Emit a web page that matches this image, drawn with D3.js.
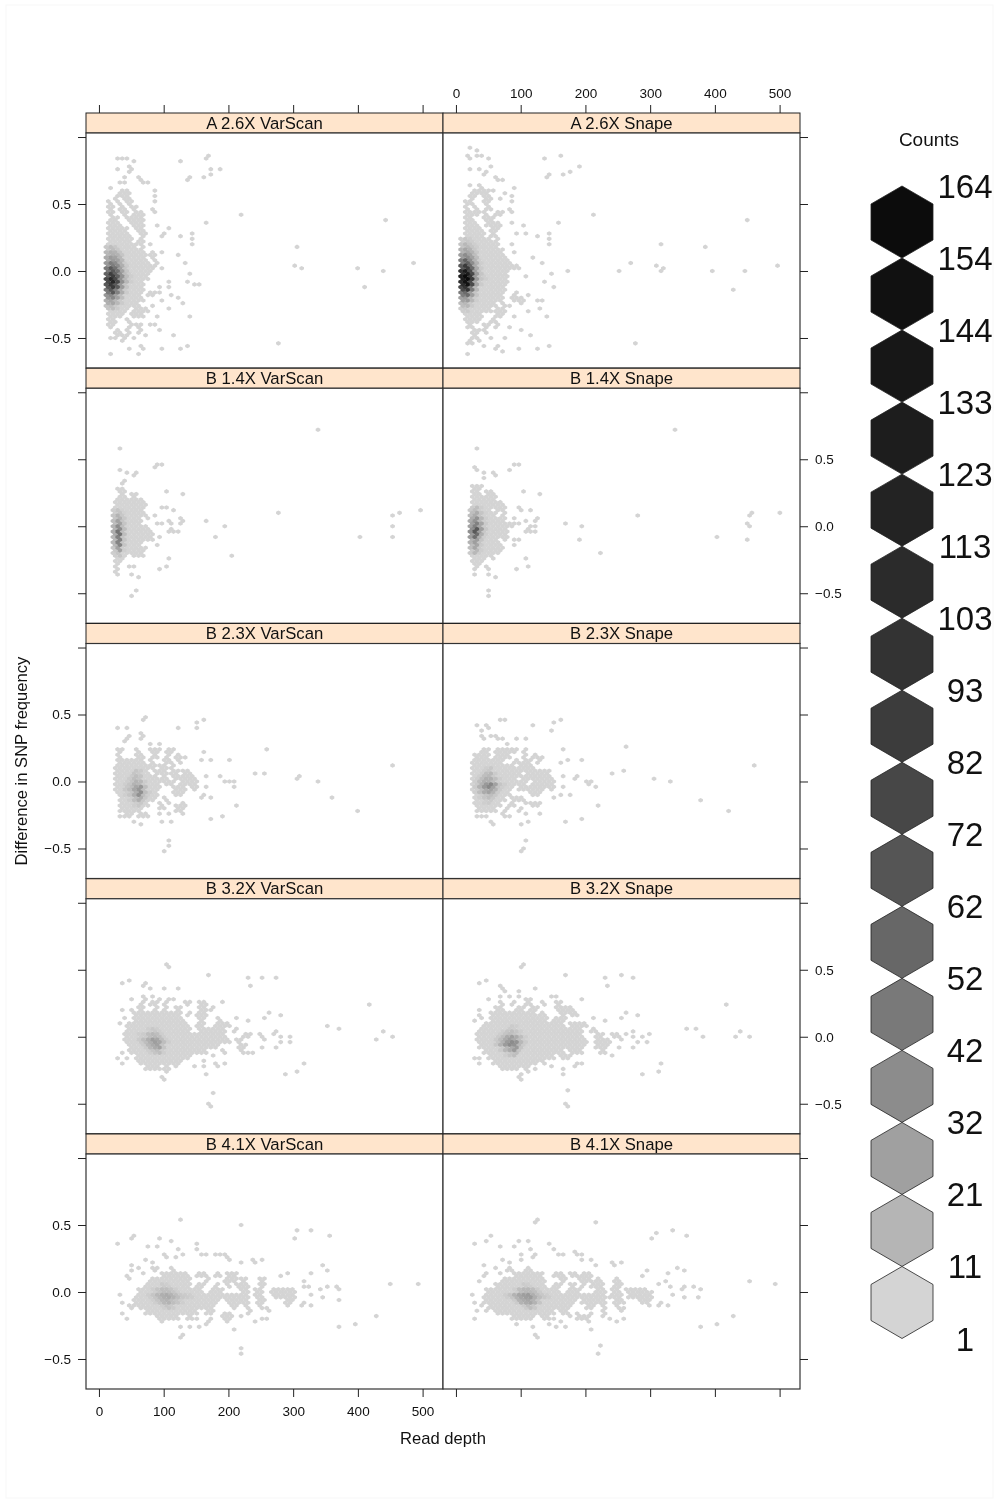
<!DOCTYPE html>
<html><head><meta charset="utf-8">
<script src="https://cdnjs.cloudflare.com/ajax/libs/d3/7.8.5/d3.min.js"></script>
<style>html,body{margin:0;background:#fff}svg{display:block;filter:blur(.35px)}text{font-family:"Liberation Sans",Arial,sans-serif;fill:#111}</style>
</head><body><div id="chart"></div>
<script>
const depthTicks=[0,100,200,300,400,500];
const diffTicks=[-0.5,0,0.5,1];
const legendCounts=[164,154,144,133,123,113,103,93,82,72,62,52,42,32,21,11,1];
const legendGrays=["#0c0c0c","#111111","#171717","#1d1d1d","#232323","#2b2b2b","#333333","#3c3c3c","#474747","#555555","#676767","#797979","#8c8c8c","#a0a0a0","#b5b5b5","#d4d4d4"];

// isolated occupied bins: [read depth, difference]
const aVarScanPoints=[[19,-.62],[30,.83],[35,.84],[42,.84],[54,.82],[26,.75],[32,.76],[45,.77],[49,.77],[53,.75],[49,.73],[40,.70],[58,.70],[64,.68],[65,.66],[72,.66],[21,.62],[35,.65],[42,.65],[89,.60],[85,.57],[83,.51],[83,.47],[87,.43],[89,.33],[107,.31],[103,.29],[94,.25],[82,.19],[94,.13],[82,.13],[120,.11],[132,.05],[99,.01],[141,-.03],[110,-.07],[135,-.08],[146,-.11],[152,-.11],[92,-.12],[105,-.12],[97,-.16],[114,-.19],[124,-.21],[129,-.25],[99,-.22],[111,-.29],[84,-.27],[137,-.34],[89,-.35],[85,-.40],[81,-.40],[97,-.44],[115,-.48],[73,-.48],[56,-.5],[27,-.49],[20,-.5],[34,-.52],[47,-.58],[63,-.56],[70,-.58],[61,-.62],[94,-.58],[128,-.58],[139,-.56],[129,.82],[168,.86],[165,.84],[189,.76],[173,.75],[173,.72],[163,.70],[142,.70],[138,.70],[137,.68],[162,.35],[217,.41],[307,.17],[304,.03],[316,.01],[397,.01],[437,-.01],[487,.05],[444,.37],[409,-.12],[274,-.54],[144,.27],[144,.23],[144,.19],[128,.25]];
const aSnapePoints=[[24,.91],[15,.85],[20,.85],[25,.84],[32,.89],[34,.86],[41,.85],[52,.83],[135,.83],[165,.85],[190,.77],[175,.73],[168,.71],[144,.71],[137,.69],[24,.75],[33,.75],[51,.77],[50,.74],[44,.71],[61,.69],[67,.67],[73,.67],[19,.63],[88,.61],[60,.60],[72,.59],[84,.57],[69,.53],[86,.51],[81,.47],[69,.43],[86,.43],[86,.35],[103,.33],[108,.29],[95,.27],[127,.25],[144,.27],[144,.23],[144,.19],[158,.35],[214,.41],[86,.19],[93,.13],[120,.10],[132,.05],[100,.02],[175,0],[146,-.03],[111,-.05],[137,-.07],[152,-.12],[114,-.18],[123,-.22],[130,-.22],[104,-.24],[132,-.28],[110,-.30],[139,-.34],[86,-.26],[90,-.35],[86,-.42],[98,-.44],[112,-.48],[72,-.50],[57,-.50],[36,-.52],[45,-.56],[64,-.56],[62,-.58],[74,-.60],[96,-.58],[129,-.58],[142,-.56],[19,-.62],[279,-.54],[252,0],[269,.06],[310,.04],[317,.19],[322,.02],[320,0],[382,.17],[397,0],[445,0],[450,.37],[428,-.14],[498,.04]];
const b14VarScanPoints=[[31,.58],[335,.72],[31,.42],[29,.41],[41,.39],[59,.39],[57,.37],[89,.47],[93,.47],[99,.45],[84,.43],[105,.25],[130,.23],[95,.13],[105,.13],[116,.11],[88,.07],[278,.09],[76,.06],[124,.05],[126,.03],[107,.03],[114,.01],[124,.01],[163,.03],[97,.01],[100,.01],[87,.01],[192,0],[118,-.04],[121,-.04],[107,-.04],[110,-.02],[93,-.08],[182,-.08],[91,-.14],[208,-.22],[403,-.08],[450,-.08],[455,0],[454,.07],[462,.09],[497,.11],[107,-.24],[104,-.30],[93,-.32],[27,-.36],[51,-.36],[58,-.38],[55,-.48],[48,-.53],[45,-.30],[52,-.30]];
const b14SnapePoints=[[32,.59],[339,.71],[32,.43],[30,.41],[42,.39],[41,.36],[55,.40],[59,.37],[90,.47],[94,.47],[100,.46],[81,.42],[105,.26],[127,.24],[96,.14],[103,.12],[117,.12],[278,.08],[124,.06],[122,.04],[108,.04],[100,.02],[95,.02],[88,.05],[167,.02],[193,0],[114,0],[121,0],[111,-.03],[118,-.04],[122,-.04],[108,-.04],[92,-.10],[96,-.10],[190,-.10],[91,-.14],[221,-.20],[406,-.08],[451,-.10],[451,.02],[457,0],[457,.08],[460,.10],[498,.10],[108,-.24],[110,-.30],[93,-.32],[28,-.36],[51,-.36],[58,-.38],[51,-.48],[48,-.53],[46,-.30],[50,-.32],[77,-.10]];
const b23VarScanPoints=[[69,.48],[71,.46],[30,.40],[40,.39],[119,.40],[149,.44],[164,.46],[152,.39],[62,.35],[69,.34],[43,.32],[45,.33],[40,.30],[62,.31],[76,.29],[90,.29],[162,.22],[262,.24],[158,.15],[175,.15],[200,.15],[135,.17],[452,.12],[241,.06],[258,.06],[306,.03],[303,.01],[335,-.01],[358,-.13],[403,-.22],[168,.03],[184,.03],[195,-.01],[203,-.01],[208,-.01],[211,-.04],[164,-.04],[162,-.10],[158,-.13],[175,-.13],[215,-.19],[188,-.27],[173,-.29],[115,-.31],[98,-.31],[128,-.24],[128,-.18],[118,-.19],[111,-.17],[102,-.20],[94,-.20],[94,-.24],[107,-.24],[74,-.24],[79,-.26],[73,-.27],[62,-.33],[57,-.31],[48,-.27],[40,-.25],[34,-.27],[108,-.44],[107,-.49],[103,-.52],[66,.31]];
const b23SnapePoints=[[65,.47],[72,.45],[29,.42],[37,.38],[46,.41],[48,.40],[120,.42],[152,.43],[165,.47],[162,.45],[150,.38],[64,.34],[70,.32],[51,.34],[43,.33],[42,.31],[64,.31],[78,.29],[90,.31],[106,.31],[111,.31],[163,.23],[260,.25],[161,.14],[176,.16],[197,.16],[131,.18],[458,.11],[240,.05],[260,.07],[305,.02],[333,0],[376,-.14],[423,-.22],[168,.04],[180,.02],[187,.04],[198,0],[203,-.02],[209,-.01],[214,-.05],[165,-.04],[165,-.11],[177,-.11],[154,-.12],[216,-.18],[195,-.29],[171,-.31],[115,-.31],[100,-.33],[126,-.25],[133,-.17],[120,-.19],[111,-.16],[102,-.20],[95,-.23],[106,-.24],[80,-.27],[74,-.25],[61,-.32],[55,-.30],[48,-.27],[34,-.27],[42,-.27],[109,-.44],[104,-.51],[102,-.52]];
const b32VarScanPoints=[[103,.53],[105,.51],[34,.39],[49,.41],[72,.39],[70,.37],[76,.36],[98,.36],[120,.36],[171,.46],[228,.44],[249,.44],[273,.43],[233,.37],[51,.29],[66,.30],[73,.29],[84,.30],[93,.29],[111,.29],[116,.29],[192,.25],[421,.23],[260,.18],[280,.16],[252,.14],[213,.14],[228,.12],[355,.07],[369,.05],[440,.03],[457,0],[429,-.02],[294,0],[284,0],[277,.03],[267,.02],[259,-.02],[249,-.09],[274,-.07],[284,-.05],[292,-.05],[314,-.20],[305,-.27],[286,-.29],[236,-.13],[231,-.13],[175,-.15],[158,-.11],[162,-.18],[147,-.23],[164,-.23],[166,-.29],[175,-.43],[171,-.50],[173,-.52],[192,-.20],[180,-.20],[180,-.23],[118,-.23],[110,-.25],[103,-.27],[97,-.31],[100,-.33],[29,-.16],[32,-.16],[36,-.20],[40,-.16],[36,-.13],[48,-.13],[30,.10],[36,.19],[36,.14],[43,.14],[50,.19]];
const b32SnapePoints=[[102,.54],[104,.52],[33,.39],[48,.41],[69,.38],[74,.36],[76,.34],[99,.34],[123,.36],[170,.46],[230,.43],[253,.45],[273,.43],[232,.37],[51,.29],[66,.30],[82,.30],[94,.30],[111,.29],[115,.29],[146,.30],[154,.30],[193,.27],[421,.23],[260,.18],[279,.16],[256,.14],[213,.14],[232,.12],[356,.05],[369,.05],[439,.03],[457,0],[435,0],[384,0],[296,.02],[296,-.05],[286,0],[277,.03],[273,0],[265,.02],[258,-.02],[254,-.09],[273,-.07],[284,-.05],[318,-.20],[313,-.27],[286,-.29],[238,-.14],[232,-.12],[174,-.14],[164,-.16],[151,-.23],[166,-.25],[166,-.29],[176,-.41],[170,-.50],[173,-.52],[193,-.20],[185,-.20],[181,-.23],[119,-.25],[113,-.26],[103,-.28],[96,-.30],[102,-.32],[28,-.16],[33,-.16],[36,-.21],[95,-.25],[87,-.23],[74,-.22],[36,.16],[36,.19],[29,.11],[41,.14]];
const b41VarScanPoints=[[126,.53],[217,.50],[32,.35],[50,.39],[57,.41],[97,.39],[108,.37],[72,.33],[90,.33],[148,.35],[151,.31],[156,.28],[164,.29],[300,.39],[303,.45],[330,.45],[354,.41],[451,.06],[493,.06],[120,.31],[126,.29],[100,.29],[102,.25],[117,.25],[74,.23],[84,.21],[50,.19],[62,.18],[53,.15],[42,.11],[44,.09],[71,.14],[182,.29],[190,.29],[196,.29],[197,.25],[203,.23],[254,.23],[235,.23],[242,.21],[218,.21],[342,.19],[351,.16],[330,.14],[293,.14],[282,.12],[319,.08],[324,.04],[315,.04],[365,.04],[373,.02],[345,.02],[353,.03],[347,-.04],[330,-.02],[370,-.06],[373,-.06],[312,-.10],[318,-.08],[326,-.10],[293,-.11],[293,-.07],[272,-.04],[259,-.12],[262,-.14],[230,-.13],[228,-.10],[257,-.20],[252,-.21],[244,-.22],[222,-.19],[205,-.17],[197,-.17],[192,-.17],[200,-.23],[210,-.29],[174,-.20],[166,-.22],[154,-.20],[164,-.25],[153,-.27],[139,-.27],[124,-.27],[127,-.32],[97,-.23],[44,-.21],[37,-.16],[48,-.13],[44,-.10],[37,-.07],[30,-.02],[54,-.11],[222,-.42],[219,-.47],[125,-.34],[373,-.27],[395,-.25],[430,-.19],[53,-.06],[300,0],[223,.01]];
const b41SnapePoints=[[124,.54],[122,.52],[216,.51],[218,.52],[30,.35],[46,.38],[55,.41],[94,.38],[112,.37],[70,.33],[88,.33],[145,.35],[150,.31],[155,.28],[162,.29],[304,.39],[306,.44],[333,.45],[356,.41],[450,.07],[491,.05],[118,.31],[124,.28],[98,.29],[100,.24],[116,.26],[72,.24],[82,.21],[46,.19],[60,.17],[50,.14],[40,.11],[36,.08],[68,.14],[180,.30],[188,.29],[194,.29],[195,.24],[206,.23],[252,.22],[238,.22],[244,.20],[216,.20],[345,.18],[350,.15],[328,.14],[296,.15],[285,.12],[322,.08],[328,.04],[312,.05],[368,.04],[376,.02],[348,.02],[356,.03],[350,-.04],[332,-.03],[372,-.05],[315,-.10],[320,-.07],[329,-.10],[296,-.11],[290,-.07],[275,-.03],[262,-.12],[258,-.14],[233,-.13],[225,-.10],[260,-.20],[250,-.22],[240,-.21],[225,-.19],[208,-.17],[200,-.18],[186,-.17],[204,-.23],[206,-.29],[177,-.19],[163,-.22],[150,-.20],[168,-.26],[156,-.27],[142,-.25],[120,-.27],[124,-.32],[94,-.24],[30,-.21],[32,-.15],[44,-.14],[38,-.10],[30,-.07],[25,-.03],[42,-.11],[220,-.41],[217,-.47],[128,-.35],[377,-.27],[400,-.25],[432,-.19],[300,0],[226,.02]];

// solid rows of occupied bins: [difference, depth from, depth to, ...]
const aVarScanRuns=[[.60,32,50],[.56,22,30,35,50],[.52,13,20,27,35,43,53],[.48,13,22,32,40,48,58],[.44,13,25,35,45,53,69],[.40,17,30,43,69],[.36,14,35,50,71],[.32,13,45,56,71],[.28,13,50,63,74],[.24,13,53,58,69],[.20,13,58,63,71],[.16,13,71],[.12,13,74,79,87],[.08,13,79,84,92],[.04,13,87],[0,13,81],[-.04,13,76],[-.08,13,71],[-.12,13,69],[-.16,13,66,74,87],[-.20,13,69],[-.24,13,63],[-.28,13,45,53,76],[-.32,13,38,50,69],[-.36,13,27,40,50],[-.40,13,25,45,50,56,66],[-.44,25,35,43,50,61,66],[-.48,22,30,33,45]];
const aSnapeRuns=[[.64,33,43],[.60,25,41,43,52],[.56,20,30,41,54],[.52,13,28,41,51],[.48,12,20,28,33,46,56],[.44,12,36,41,48,61,74],[.40,11,28,43,61],[.36,11,33,46,69],[.32,11,41,51,66],[.28,11,46,54,64],[.24,11,54,59,66],[.20,11,66],[.16,11,74],[.12,11,77],[.08,11,85],[.04,11,95],[0,11,82],[-.04,11,82],[-.08,11,80],[-.12,11,77],[-.16,11,74,90,95],[-.20,11,72,85,105],[-.24,11,64,69,79],[-.28,11,54,59,77],[-.32,11,43,59,74],[-.36,12,36,54,64],[-.40,15,28,41,51,59,64],[-.44,25,36,41,48],[-.48,23,33],[-.52,18,28]];
const b14VarScanRuns=[[.33,35,43],[.28,26,43],[.24,32,43,48,61],[.20,22,71],[.16,22,74],[.12,22,58,61,71],[.08,22,66,71,76],[.04,22,66],[0,22,79],[-.04,22,84],[-.08,22,84],[-.12,22,66],[-.16,22,74],[-.20,22,45,50,71],[-.24,22,38],[-.28,25,32],[-.32,25,30]];
const b14SnapeRuns=[[.30,24,43],[.26,25,36,46,59],[.22,23,64],[.18,23,74],[.14,23,56,61,77],[.10,23,64,69,77],[.06,23,79],[.02,23,90],[-.02,23,82],[-.06,23,82],[-.10,23,66],[-.14,23,72],[-.18,23,70],[-.22,23,48,51,61],[-.26,25,40],[-.30,28,33]];
const b23VarScanRuns=[[.24,27,38,58,63,79,94,102,107,112,118],[.20,27,35,56,69,81,92,102,110,118,128],[.16,27,71,76,84,99,115,120,125],[.12,25,87,92,107,110,118],[.08,25,79,84,105,110,123,128,143],[.04,25,92,97,105,115,148],[0,25,94,99,118,123,154],[-.04,25,97,112,136,143,154],[-.08,27,92,115,133],[-.12,30,87,99,107],[-.16,30,76,92,97,123,136],[-.20,32,66,118,133],[-.24,38,53,61,69]];
const b23SnapeRuns=[[.24,38,51,61,95,102,110],[.20,28,51,59,85,102,110,118,128],[.16,25,74,90,100,102,118,123,131],[.12,23,90,95,120],[.08,23,102,108,144],[.04,23,95,100,149],[0,23,110,118,152],[-.04,25,87,95,139,144,152],[-.08,28,85,113,133],[-.12,28,78,85,105],[-.16,28,69,82,92,115,133],[-.20,32,64,74,80],[-.24,69,79]];
const b32VarScanRuns=[[.26,63,68,79,92,99,105,133,141,154,169],[.22,61,71,84,92,99,107,117,128,154,166,172,179],[.18,53,128,135,141,151,169],[.14,53,133,154,164,182,187],[.10,40,138,148,164,177,203],[.06,40,143,154,197,207,215],[.02,38,197,221,236,246,254],[-.02,38,203,210,223],[-.06,45,185,215,228],[-.10,45,166,190,197,220,225],[-.14,55,143],[-.18,60,128],[-.22,71,94,100,110]];
const b32SnapeRuns=[[.26,69,74,85,92,105,118,133,139,152,162],[.22,61,72,92,105,113,126,154,182],[.18,51,123,128,139,162,172,175,188],[.14,51,141,151,170],[.10,41,141,144,167,175,203],[.06,33,152,154,197,206,219],[.02,30,197,213,229,239,255],[-.02,30,203,213,239],[-.06,36,180,182,200,216,237],[-.10,43,167,175,195,221,226],[-.14,48,152,162,175],[-.18,56,126,131,136],[-.22,66,100,102,113]];
const b41VarScanRuns=[[.18,81,90,110,117],[.14,94,138,151,169,177,190,195,215],[.10,76,141,164,172,192,213,218,228,246,257],[.06,69,141,151,164,177,187,197,200,210,231,246,259],[.02,58,161,172,192,218,233,239,254,265,300],[-.02,56,233,238,254,267,305],[-.06,56,187,195,233,244,259,285,300],[-.10,61,179,203,213,226,231,249,254],[-.14,71,154,164,177,228,233],[-.18,89,125,135,146,190,208]];
const b41SnapeRuns=[[.18,78,88,108,116],[.14,88,136,148,166,175,188,193,212],[.10,70,140,160,170,190,210,216,226,243,255],[.06,58,140,148,162,175,186,195,200,208,230,243,258],[.02,45,160,170,192,215,232,238,255,262,298],[-.02,42,232,237,256,264,306],[-.06,42,186,193,232,242,260,282,302],[-.10,50,178,200,214,224,232,246,254],[-.14,60,152,162,176,226,232],[-.18,84,122,132,146,186,206]];

// darker bins: [difference, first depth, [counts in steps of one bin width]]
const aVarScanCore=[[.18,14,[5,8,5]],[.14,14,[10,14,12,6]],[.10,14,[16,24,20,10]],[.06,14,[25,40,32,14,4]],[.02,14,[42,60,46,20,6]],[-.02,14,[55,80,55,28,8,3]],[-.06,14,[70,105,70,30,10,3]],[-.10,14,[60,85,58,24,6]],[-.14,14,[42,60,38,15,4]],[-.18,14,[26,34,20,8]],[-.22,14,[14,18,10,4]],[-.26,14,[6,8,4]]];
const aSnapeCore=[[.24,10,[3,5,3]],[.20,10,[6,10,6,3]],[.16,10,[12,18,12,5]],[.12,10,[22,32,20,8]],[.08,10,[40,55,32,12,3]],[.04,10,[60,85,50,16,4]],[0,10,[95,125,70,22,6]],[-.04,10,[120,164,85,24,6,3]],[-.08,10,[100,140,70,18,4]],[-.12,10,[70,90,42,10]],[-.16,10,[40,50,22,6]],[-.20,10,[20,24,10,3]],[-.24,10,[8,10,4]],[-.28,10,[3,4]]];
const b14VarScanCore=[[.12,22,[3,6,2]],[.08,22,[6,12,5]],[.04,22,[8,20,6]],[0,22,[12,32,8]],[-.04,22,[15,45,8]],[-.08,22,[10,38,6]],[-.12,22,[10,36,6]],[-.16,22,[5,20,3]],[-.20,22,[3,6]]];
const b14SnapeCore=[[.14,23,[4,8,3]],[.10,23,[8,15,6,2]],[.06,23,[15,28,10,3]],[.02,23,[20,38,18,4]],[-.02,23,[30,60,22,5]],[-.06,23,[24,48,14,3]],[-.10,23,[12,22,6]],[-.14,23,[8,18,4]],[-.18,23,[4,10,3]]];
const b23VarScanCore=[[.08,54,[6,4]],[.04,47,[4,8,6]],[0,40,[3,6,12,10,4]],[-.04,40,[5,8,18,26,8]],[-.08,40,[3,6,14,30,8,3]],[-.12,47,[3,8,14,5]],[-.16,54,[3,5]]];
const b23SnapeCore=[[.10,46,[3,5]],[.06,39,[3,8,10,4]],[.02,32,[3,8,14,14,8,3]],[-.02,32,[4,12,25,34,20,6,3]],[-.06,32,[3,8,16,20,12,4]],[-.10,39,[3,6,8,5]],[-.14,46,[3,4]]];
const b32VarScanCore=[[.06,78,[3,5,3]],[.02,64,[3,4,8,10,8,3]],[-.02,64,[4,8,14,22,18,8,3]],[-.06,71,[4,10,16,20,6]],[-.10,78,[3,6,8,3]]];
const b32SnapeCore=[[.08,85,[4,3]],[.04,71,[3,6,8,6,3]],[0,64,[4,8,16,22,16,8,3]],[-.04,64,[5,12,24,32,28,10,4]],[-.08,71,[4,10,16,24,6]],[-.12,78,[3,6,8]]];
const b41VarScanCore=[[.06,99,[4,3]],[.02,85,[3,6,8,8,6,3]],[-.02,78,[3,6,10,14,16,12,8,5,4,3]],[-.06,85,[3,6,10,12,8,6,3]],[-.10,99,[3,6,4]]];
const b41SnapeCore=[[.06,106,[4,3]],[.02,92,[3,8,10,10,8,4]],[-.02,78,[3,6,12,18,22,24,14,8,5,3]],[-.06,92,[4,12,16,18,12,6]],[-.10,106,[4,8,5]]];

const panels=[
["A 2.6X VarScan",aVarScanPoints,aVarScanRuns,aVarScanCore],["A 2.6X Snape",aSnapePoints,aSnapeRuns,aSnapeCore],
["B 1.4X VarScan",b14VarScanPoints,b14VarScanRuns,b14VarScanCore],["B 1.4X Snape",b14SnapePoints,b14SnapeRuns,b14SnapeCore],
["B 2.3X VarScan",b23VarScanPoints,b23VarScanRuns,b23VarScanCore],["B 2.3X Snape",b23SnapePoints,b23SnapeRuns,b23SnapeCore],
["B 3.2X VarScan",b32VarScanPoints,b32VarScanRuns,b32VarScanCore],["B 3.2X Snape",b32SnapePoints,b32SnapeRuns,b32SnapeCore],
["B 4.1X VarScan",b41VarScanPoints,b41VarScanRuns,b41VarScanCore],["B 4.1X Snape",b41SnapePoints,b41SnapeRuns,b41SnapeCore]];

const W=998,H=1504,leftX=86,colW=357,topY=113,stripH=20,rowH=255.25,plotH=235;
const svg=d3.select("#chart").append("svg").attr("width",W).attr("height",H);
svg.append("rect").attr("x",6).attr("y",5).attr("width",987).attr("height",1493).attr("fill","#fff").attr("stroke","#f7f7f7");

const xS=d3.scaleLinear().domain([-20,531.5]).range([0,colW]);
const yS=d3.scaleLinear().domain([-.724,1.03]).range([plotH,0]);
const gray=d3.scaleLinear().domain([1,11,21,32,42,52,62,72,82,93,103,113,123,133,144,164]).range(legendGrays.slice().reverse());
const binX=7.2,binY=.02;
const hw=(xS(binX)-xS(0))/2, hTip=2.3, hSh=1.0;
const hexPath=`M0,${-hTip}L${hw},${-hSh}L${hw},${hSh}L0,${hTip}L${-hw},${hSh}L${-hw},${-hSh}Z`;

function binsFor(points,runs,core){
  const cells=new Map();
  const put=(depth,diff,c)=>{
    const i=Math.round(diff/binY),off=(Math.abs(i)%2)*binX/2;
    const j=Math.round((depth-off)/binX),k=i+"_"+j;
    const cx=j*binX+off;
    if(!cells.has(k)||cells.get(k).c<c)cells.set(k,{x:cx,y:i*binY,c});
  };
  points.forEach(p=>put(p[0],p[1],1));
  runs.forEach(r=>{
    for(let s=1;s<r.length;s+=2){
      [r[0],r[0]-binY].forEach(d=>{
        const i=Math.round(d/binY),off=(Math.abs(i)%2)*binX/2;
        const j0=Math.ceil((r[s]-off)/binX),j1=Math.floor((r[s+1]-off)/binX);
        if(j1<j0)put((r[s]+r[s+1])/2,d,1);
        for(let j=j0;j<=j1;j++)put(j*binX+off,d,1);
      });
    }
  });
  core.forEach(r=>r[2].forEach((c,n)=>{[r[0],r[0]-binY].forEach(d=>put(r[1]+n*binX,d,c));}));
  return Array.from(cells.values()).sort((a,b)=>a.c-b.c);
}

panels.forEach((p,n)=>{
  const col=n%2,row=Math.floor(n/2);
  const x0=leftX+col*colW,y0=topY+row*rowH;
  const g=svg.append("g").attr("transform",`translate(${x0},${y0})`);
  g.append("rect").attr("width",colW).attr("height",stripH).attr("fill","#ffe5cc").attr("stroke","#222").attr("stroke-width",1);
  g.append("text").attr("x",colW/2).attr("y",15.5).attr("text-anchor","middle").attr("font-size",16.7).text(p[0]);
  const pg=g.append("g").attr("transform",`translate(0,${stripH})`);
  pg.append("rect").attr("width",colW).attr("height",plotH).attr("fill","#fff").attr("stroke","#333").attr("stroke-width",1.2);
  pg.selectAll("path.hex").data(binsFor(p[1],p[2],p[3])).join("path").attr("class","hex")
    .attr("d",hexPath).attr("transform",d=>`translate(${xS(d.x)},${yS(d.y)})`).attr("fill",d=>gray(d.c));
  const fmt=d=>d===1?"":d3.format(".1f")(d);
  const rowLeft=row%2===0;
  if(col===0){
    const a=d3.axisLeft(yS).tickValues(diffTicks).tickSize(8).tickPadding(7).tickFormat(rowLeft?fmt:()=>"");
    styleAxis(pg.append("g").call(a));
  }else{
    const a=d3.axisRight(yS).tickValues(diffTicks).tickSize(8).tickPadding(7).tickFormat(rowLeft?()=>"":fmt);
    styleAxis(pg.append("g").attr("transform",`translate(${colW},0)`).call(a));
  }
  if(row===0){
    const a=d3.axisTop(xS).tickValues(depthTicks).tickSize(8).tickPadding(7).tickFormat(col===1?d3.format("d"):()=>"");
    styleAxis(g.append("g").call(a));
  }
  if(row===4){
    const a=d3.axisBottom(xS).tickValues(depthTicks).tickSize(8).tickPadding(9).tickFormat(col===0?d3.format("d"):()=>"");
    styleAxis(pg.append("g").attr("transform",`translate(0,${plotH})`).call(a));
  }
});
function styleAxis(s){
  s.select(".domain").remove();
  s.selectAll("line").attr("stroke","#222").attr("stroke-width",1);
  s.selectAll("text").attr("font-size",13.5).style("font-family",'"Liberation Sans",Arial,sans-serif').attr("fill","#111");
}

svg.append("text").attr("x",443).attr("y",1444).attr("text-anchor","middle").attr("font-size",16.6).text("Read depth");
svg.append("text").attr("transform","translate(27,761) rotate(-90)").attr("text-anchor","middle").attr("font-size",16.6).text("Difference in SNP frequency");

const legendY=d3.scaleLinear().domain([0,16]).range([186,1338.5]);
const R=36,HWL=31;
const lhex=`M0,${-R}L${HWL},${-R/2}L${HWL},${R/2}L0,${R}L${-HWL},${R/2}L${-HWL},${-R/2}Z`;
svg.append("text").attr("x",929).attr("y",146).attr("text-anchor","middle").attr("font-size",19).text("Counts");
svg.selectAll("path.lg").data(legendGrays).join("path").attr("class","lg")
  .attr("d",lhex).attr("transform",(d,i)=>`translate(902,${legendY(i)+R})`)
  .attr("fill",d=>d).attr("stroke","#222").attr("stroke-width",.8);
svg.selectAll("text.lt").data(legendCounts).join("text").attr("class","lt")
  .attr("x",965).attr("y",(d,i)=>legendY(i)+12).attr("text-anchor","middle").attr("font-size",33).text(d=>d);
</script></body></html>
